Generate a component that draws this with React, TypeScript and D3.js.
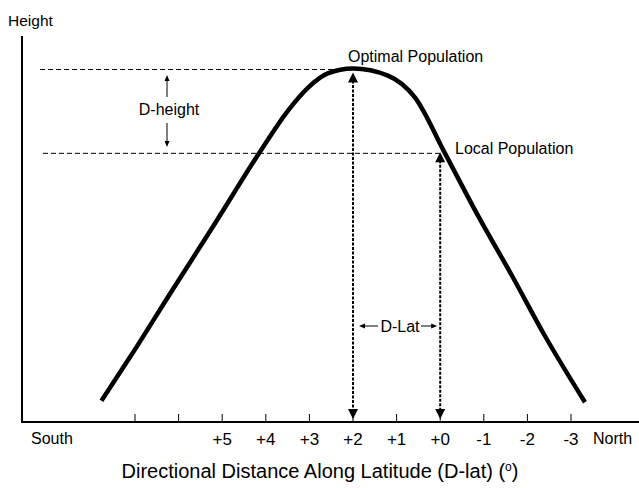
import * as d3 from 'd3';

// Gaussian-like fitness curve: directional latitude distance (deg) vs height
const latitudes = [7.77, 7.08, 6.16, 5.21, 4.14, 3.49, 3.03, 2.58, 2.0, 1.2, 0.58, -0.11, -0.87, -1.65, -2.4, -3.32];
const heights = [6.0, 19.0, 37.0, 55.3, 76.3, 88.1, 94.6, 98.6, 100, 98.0, 91.8, 76.0, 58.3, 41.3, 24.4, 5.6];

const tickValues = [7, 6, 5, 4, 3, 2, 1, 0, -1, -2, -3];
const tickLabels = ['', '', '+5', '+4', '+3', '+2', '+1', '+0', '-1', '-2', '-3'];

const optimal = { lat: 2, height: 100, label: 'Optimal Population' };
const local = { lat: 0, height: 76, label: 'Local Population' };

const W = 639;
const H = 488;
const AXIS_X = 22;
const AXIS_Y = 422;
const FONT = '"Liberation Sans", Arial, Helvetica, sans-serif';

const x = d3.scaleLinear().domain([7, -3]).range([135, 571]);
const y = d3.scaleLinear().domain([0, 100]).range([AXIS_Y, 68.5]);

// filled triangle pointing up or down, tip at (cx, tipY)
function head(cx: number, tipY: number, dir: 1 | -1, w: number, h: number) {
  return `M${cx},${tipY} L${cx - w / 2},${tipY + dir * h} L${cx + w / 2},${tipY + dir * h} Z`;
}

function headH(tipX: number, cy: number, dir: 1 | -1, w: number, h: number) {
  return `M${tipX},${cy} L${tipX + dir * h},${cy - w / 2} L${tipX + dir * h},${cy + w / 2} Z`;
}

export default function App() {
  const pts = latitudes.map((lat, i) => [x(lat), y(heights[i])] as [number, number]);
  const line = d3.line().curve(d3.curveMonotoneX);

  const ox = x(optimal.lat);
  const oy = y(optimal.height);
  const lx = x(local.lat);
  const ly = y(local.height);
  const dLatY = 326;

  return (
    <svg width={W} height={H} style={{ position: 'absolute', left: 0, top: 0, background: '#fff' }} fontFamily={FONT}>
      {/* axes */}
      <line x1={AXIS_X} y1={36} x2={AXIS_X} y2={AXIS_Y + 1} stroke="#000" strokeWidth={2} />
      <line x1={AXIS_X - 1} y1={AXIS_Y} x2={W} y2={AXIS_Y} stroke="#000" strokeWidth={2} />
      {tickValues.map((v, i) => (
        <g key={v}>
          <line x1={x(v)} x2={x(v)} y1={AXIS_Y} y2={AXIS_Y - 8} stroke="#000" strokeWidth={1} />
          <text x={x(v)} y={445} textAnchor="middle" fontSize={17}>{tickLabels[i]}</text>
        </g>
      ))}
      <text x={31} y={444} fontSize={16}>South</text>
      <text x={593} y={444} fontSize={16}>North</text>
      <text x={8} y={26} fontSize={15.5}>Height</text>
      <text x={320} y={478} textAnchor="middle" fontSize={20}>
        Directional Distance Along Latitude (D-lat) (<tspan fontSize={12} dy={-7}>o</tspan><tspan dy={7}>)</tspan>
      </text>

      {/* reference dashed lines */}
      <line x1={40} x2={ox} y1={oy + 1} y2={oy + 1} stroke="#000" strokeWidth={1} strokeDasharray="5 3" />
      <line x1={43} x2={lx} y1={ly} y2={ly} stroke="#000" strokeWidth={1} strokeDasharray="5 3" />

      {/* curve */}
      <path d={line(pts) ?? ''} fill="none" stroke="#000" strokeWidth={4.5} strokeLinecap="butt" />

      {/* vertical dotted arrows */}
      {[{ cx: ox, top: oy + 4 }, { cx: lx, top: ly - 1 }].map((a, i) => (
        <g key={i}>
          <line x1={a.cx} x2={a.cx} y1={a.top + 8} y2={AXIS_Y - 12} stroke="#000" strokeWidth={2} strokeDasharray="3 1.5" />
          <path d={head(a.cx, a.top, 1, 10, 10)} fill="#000" />
          <path d={head(a.cx, AXIS_Y - 3, -1, 10, 10)} fill="#000" />
        </g>
      ))}

      {/* D-height */}
      <text x={169} y={115} textAnchor="middle" fontSize={16}>D-height</text>
      <line x1={167} x2={167} y1={78} y2={97} stroke="#000" strokeWidth={1} />
      <path d={head(167, 75, 1, 5, 6)} fill="#000" />
      <line x1={167} x2={167} y1={123} y2={144} stroke="#000" strokeWidth={1} />
      <path d={head(167, 147, -1, 5, 6)} fill="#000" />

      {/* D-Lat */}
      <text x={400} y={332} textAnchor="middle" fontSize={16}>D-Lat</text>
      <line x1={365} x2={378} y1={dLatY} y2={dLatY} stroke="#000" strokeWidth={1} />
      <path d={headH(ox + 6, dLatY, 1, 5, 6)} fill="#000" />
      <line x1={421} x2={434} y1={dLatY} y2={dLatY} stroke="#000" strokeWidth={1} />
      <path d={headH(lx - 3, dLatY, -1, 5, 6)} fill="#000" />

      {/* labels */}
      <text x={348} y={62} fontSize={16}>{optimal.label}</text>
      <text x={455} y={154} fontSize={16}>{local.label}</text>
    </svg>
  );
}
